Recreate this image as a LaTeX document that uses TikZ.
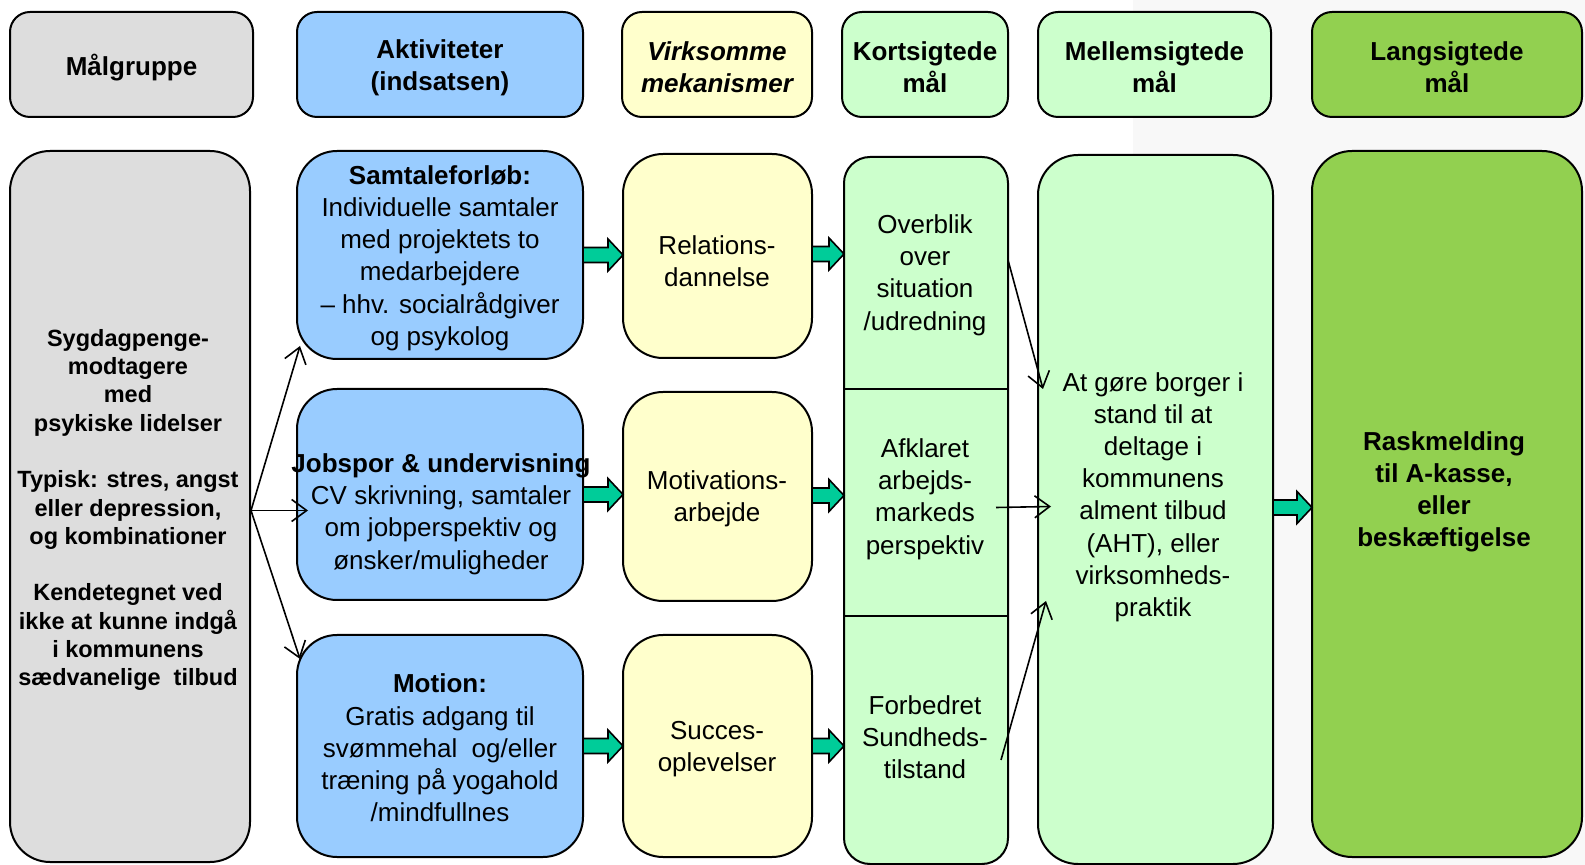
\documentclass[tikz,border=0pt]{standalone}
\usepackage{fontspec}
\setmainfont{Liberation Sans}
\usetikzlibrary{calc,arrows.meta}
\definecolor{cgray}{HTML}{DDDDDD}
\definecolor{cblue}{HTML}{99CCFF}
\definecolor{cyel}{HTML}{FFFFCC}
\definecolor{clgreen}{HTML}{CCFFCC}
\definecolor{cgreen}{HTML}{92D050}
\definecolor{carrow}{HTML}{00CC99}
\definecolor{cbg}{HTML}{F8F8F8}
\newcommand{\bx}[7]{\node[#6, minimum width={(#4-#2)*0.5pt}, minimum height={(#5-#3)*0.5pt}] (#1) at ({(#2+#4)/2},{(#3+#5)/2}) {#7};}
\newcommand{\barrow}[2]{\draw[barrowstyle] let \p1=#1, \p2=#2 in (\x1,\y1+3.75pt) -- (\x2-7.5pt,\y1+3.75pt) -- (\x2-7.5pt,\y1+8pt) -- (\x2,\y1) -- (\x2-7.5pt,\y1-8pt) -- (\x2-7.5pt,\y1-3.75pt) -- (\x1,\y1-3.75pt) -- cycle;}
\begin{document}
\begin{tikzpicture}[x=0.5pt,y=-0.5pt,
  box/.style={draw=black, line width=1pt, inner sep=0pt, outer sep=0pt},
  hbox/.style={box, rounded corners=10pt},
  bbox/.style={box, rounded corners=20pt},
  txt/.style={align=center, font=\fontsize{13}{16.1}\selectfont},
  btxt/.style={align=center, font=\fontsize{13}{16.1}\selectfont\bfseries},
  barrowstyle/.style={fill=carrow, draw=black, line width=0.8pt, line join=miter},
  thin/.style={line width=0.8pt, -{Straight Barb[length=7.5pt,width=11pt,line width=0.8pt]}}
]
\useasboundingbox (0,0) rectangle (1585,865);
\fill[cbg] (1133,0) rectangle (1585,865);
% headers
\bx{h1}{10}{12}{253}{117}{hbox,fill=cgray}{}
\bx{h2}{297}{12}{583}{117}{hbox,fill=cblue}{}
\bx{h3}{622}{12}{812}{117}{hbox,fill=cyel}{}
\bx{h4}{842}{12}{1008}{117}{hbox,fill=clgreen}{}
\bx{h5}{1038}{12}{1271}{117}{hbox,fill=clgreen}{}
\bx{h6}{1312}{12}{1582}{117}{hbox,fill=cgreen}{}
\node[btxt] (h1t) at ($(h1)+(0,3)$) {Målgruppe};
\node[btxt] (h2t) at ($(h2)+(0,3)$) {Aktiviteter\\(indsatsen)};
\node[btxt,font=\fontsize{13}{16.1}\selectfont\bfseries\itshape] (h3t) at ($(h3)+(0,3)$) {Virksomme\\mekanismer};
\node[btxt] (h4t) at ($(h4)+(0,3)$) {Kortsigtede\\mål};
\node[btxt] (h5t) at ($(h5)+(0,3)$) {Mellemsigtede\\mål};
\node[btxt] (h6t) at ($(h6)+(0,3)$) {Langsigtede\\mål};
% body
\bx{mg}{10}{151}{250}{862}{bbox,fill=cgray}{}
\bx{a1}{297}{151}{583}{359}{bbox,fill=cblue}{}
\bx{a2}{297}{389}{583}{600}{bbox,fill=cblue}{}
\bx{a3}{297}{635}{583}{857}{bbox,fill=cblue}{}
\bx{m1}{623}{154}{812}{358}{bbox,fill=cyel}{}
\bx{m2}{623}{392}{812}{601}{bbox,fill=cyel}{}
\bx{m3}{623}{635}{812}{857}{bbox,fill=cyel}{}
\bx{kort}{844}{157}{1008}{864}{box,rounded corners=13pt,fill=clgreen}{}
\bx{mel}{1038}{155}{1273}{864}{bbox,fill=clgreen}{}
\bx{lang}{1312}{151}{1582}{857}{bbox,fill=cgreen}{}
\draw[line width=1pt] (kort.west |- 0,389) -- (kort.east |- 0,389);
\draw[line width=1pt] (kort.west |- 0,616) -- (kort.east |- 0,616);
% texts
\node[align=center, font=\fontsize{11.75}{14.15}\selectfont\bfseries] (mgt) at (128,510)
 {Sygdagpenge-\\modtagere\\med\\psykiske lidelser\\[14.15pt]Typisk: stres, angst\\eller depression,\\og kombinationer\\[14.15pt]Kendetegnet ved\\ikke at kunne indgå\\i kommunens\\sædvanelige\ \ tilbud};
\node[txt] (a1t) at (440,258) {\textbf{Samtaleforløb:}\\Individuelle samtaler\\med projektets to\\medarbejdere\\– hhv. socialrådgiver\\og psykolog};
\node[txt] (a2t) at (441,514) {\textbf{Jobspor \& undervisning}\\CV skrivning, samtaler\\om jobperspektiv og\\ønsker/muligheder};
\node[txt] (a3t) at (440,748) {\textbf{Motion:}\\Gratis adgang til\\svømmehal\ \ og/eller\\træning på yogahold\\/mindfullnes};
\node[txt] (m1t) at (717,261) {Relations-\\dannelse};
\node[txt] (m2t) at (717,499) {Motivations-\\arbejde};
\node[txt] (m3t) at (717,749) {Succes-\\oplevelser};
\node[txt] (k1t) at (925,275) {Overblik\\over\\situation\\/udredning};
\node[txt] (k2t) at (925,499) {Afklaret\\arbejds-\\markeds\\perspektiv};
\node[txt] (k3t) at (925,737) {Forbedret\\Sundheds-\\tilstand};
\node[txt] (melt) at (1153,497) {At gøre borger i\\stand til at\\deltage i\\kommunens\\alment tilbud\\(AHT), eller\\virksomheds-\\praktik};
\node[btxt] (langt) at (1444,492) {Raskmelding\\til A-kasse,\\eller\\beskæftigelse};
% block arrows
\barrow{(a1.east)}{(m1.west)}
\barrow{(a2.east)}{(m2.west)}
\barrow{(a3.east)}{(m3.west)}
\barrow{($(m1.east)+(0,-2)$)}{(kort.west)}
\barrow{($(m2.east)+(0,-1)$)}{(kort.west)}
\barrow{(m3.east)}{(kort.west)}
\barrow{($(mel.east)+(0,-2)$)}{(lang.west)}
% thin arrows
\draw[thin] ($(mg.east)+(1,4)$) -- ($(a1.south west)+(3,-13)$);
\draw[thin] ($(mg.east)+(1,4)$) -- ($(a2.west)+(11,16)$);
\draw[thin] ($(mg.east)+(1,4)$) -- ($(a3.north west)+(3,24)$);
\draw[thin] ($(kort.north east)+(0,103)$) -- ($(mel.north west)+(5,234)$);
\draw[thin] ($(kort.east)+(-12,-3)$) -- ($(mel.west)+(13,-3)$);
\draw[thin] ($(kort.south east)+(-7,-104)$) -- ($(mel.south west)+(8,-263)$);
\end{tikzpicture}
\end{document}
